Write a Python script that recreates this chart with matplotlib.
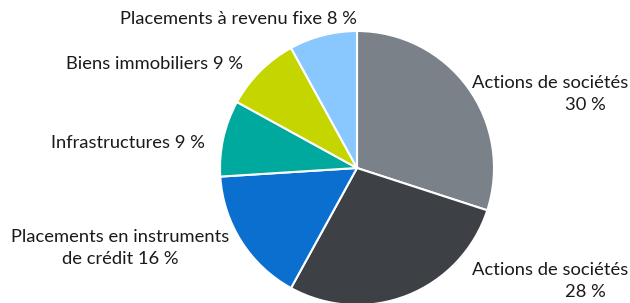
import matplotlib
matplotlib.use("Agg")
import matplotlib.pyplot as plt

labels = ["Actions de sociétés", "Actions de sociétés", "Placements en instruments de crédit",
          "Infrastructures", "Biens immobiliers", "Placements à revenu fixe"]
values = [30, 28, 16, 9, 9, 8]
colors = ["#7b8189", "#3d4045", "#0a6fce", "#00a99d", "#c5d500", "#89c8ff"]

W, H = 630, 303
fig = plt.figure(figsize=(W / 100, H / 100), dpi=100)
ax = fig.add_axes([0, 0, 1, 1])

ax.pie(values, colors=colors, startangle=90, counterclock=False,
       center=(357, H - 168), radius=137,
       wedgeprops=dict(edgecolor="white", linewidth=1.5))
ax.set_xlim(0, W)
ax.set_ylim(0, H)
ax.set_aspect("equal")
ax.axis("off")

fam = ["Lato", "DejaVu Sans"]
fs = 13.2
tc = "#1a1a1a"
def t(x, y, s, ha="center"):
    ax.text(x, H - y, s, ha=ha, va="center", fontsize=fs, family=fam, color=tc)

t(238, 19, f"{labels[5]} {values[5]} %")
t(155, 64, f"{labels[4]} {values[4]} %")
t(128, 143, f"{labels[3]} {values[3]} %")
t(120, 237, "Placements en instruments")
t(120, 259, f"de crédit {values[2]} %")
t(550, 83, labels[0])
t(606, 105, f"{values[0]} %", ha="right")
t(550, 270, labels[1])
t(606, 292, f"{values[1]} %", ha="right")

fig.savefig("out.png", dpi=100)
